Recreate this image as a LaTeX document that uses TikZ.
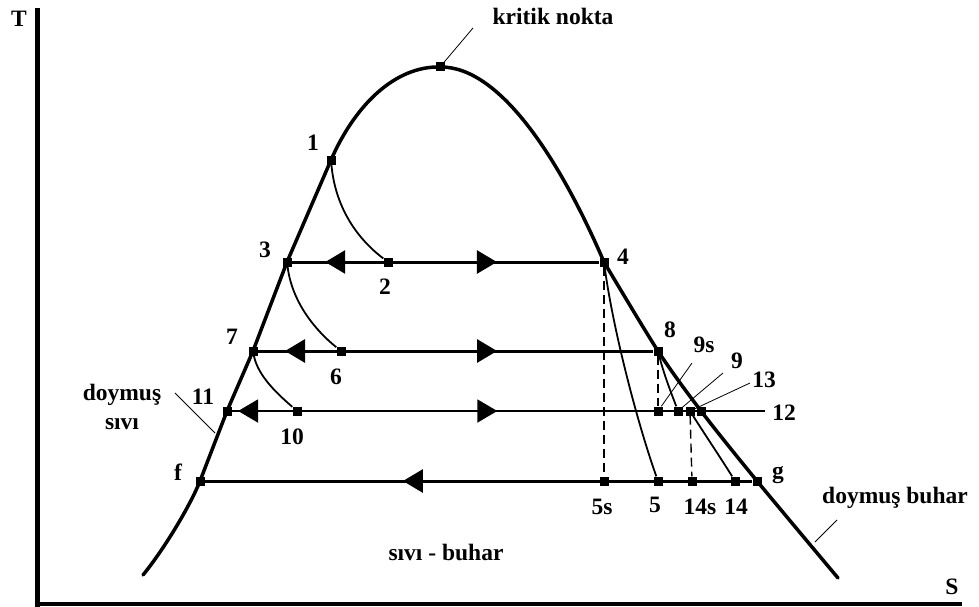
\documentclass[tikz,border=0pt]{standalone}
\usepackage{fontspec}
\setmainfont{Liberation Serif}
\usetikzlibrary{arrows.meta, decorations.markings}

\begin{document}
\begin{tikzpicture}[x=1pt, y=-1pt,
  pt/.style={rectangle, fill=black, minimum size=9pt, inner sep=0pt},
  lbl/.style={font=\fontsize{23.5}{25}\selectfont\bfseries, inner sep=1pt, align=center},
  dome/.style={line width=3.5pt, line join=round, line cap=round},
  isobar/.style={line width=3pt},
  proc/.style={line width=1.8pt},
  isen/.style={line width=1.4pt, dash pattern=on 9pt off 5pt},
  leader/.style={line width=0.8pt},
  tipL/.style={postaction={decorate, decoration={markings,
    mark=at position #1 with {\arrowreversed{Triangle[length=20pt, width=23pt]}}}}},
  tipR/.style={postaction={decorate, decoration={markings,
    mark=at position #1 with {\arrow{Triangle[length=20pt, width=23pt]}}}}},
]
  \useasboundingbox (0,0) rectangle (979,607);

  % axes
  \coordinate (top) at (37,8);
  \coordinate (orig) at (37,604);
  \coordinate (send) at (962,604);
  \draw[line width=5pt] (top) -- (37,607);
  \draw[line width=4pt] (orig) -- (send);
  \node[lbl] (tT) at (19,19) {T};
  \node[lbl] (tS) at (952,587) {S};

  % state points
  \node[pt] (crit) at (440,67) {};
  \node[pt] (p1) at (331,160) {};
  \node[pt] (p2) at (388,262) {};
  \node[pt] (p3) at (287,262) {};
  \node[pt] (p4) at (604,262) {};
  \node[pt] (p6) at (341,351) {};
  \node[pt] (p7) at (253,351) {};
  \node[pt] (p8) at (658,351) {};
  \node[pt] (p10) at (297,411) {};
  \node[pt] (p11) at (227,411) {};
  \node[pt] (p9s) at (658,411) {};
  \node[pt] (p9) at (678,411) {};
  \node[pt] (p13) at (690,411) {};
  \node[pt] (p12) at (701,411) {};
  \coordinate (e12) at (765,411);
  \node[pt] (pf) at (200,481) {};
  \node[pt] (p5s) at (604,481) {};
  \node[pt] (p5) at (658,481) {};
  \node[pt] (p14s) at (692,481) {};
  \node[pt] (p14) at (735,481) {};
  \node[pt] (pg) at (757,481) {};

  % saturation dome
  \coordinate (dl) at (143,575);
  \coordinate (dr) at (838,578);
  \draw[dome] (dl) .. controls (165,548) and (191,504) .. (pf.center)
    -- (p11.center) -- (p7.center) -- (p3.center) -- (p1.center)
    .. controls (355,105) and (395,66) .. (crit.center)
    .. controls (500,66) and (560,160) .. (p4.center);
  \draw[dome] plot[smooth, tension=0.5] coordinates {(p4.center) (p8.center)
    (p12.center) (pg.center) (dr)};

  % pressure lines
  \draw[isobar, tipL=0.109, tipR=0.667] (p3) -- (p4);
  \draw[isobar, tipL=0.069, tipR=0.605] (p7) -- (p8);
  \draw[line width=2pt, tipL=0.012, tipR=0.498] (p11) -- (e12);
  \draw[isobar, tipL=0.362] (pf) -- (pg);

  % expansions
  \draw[proc] (p1) .. controls (335,205) and (355,237) .. (p2);
  \draw[proc] (p3) .. controls (292,302) and (315,330) .. (p6);
  \draw[proc] (p7) .. controls (258,377) and (280,396) .. (p10);
  \draw[proc] (p4) .. controls (613,330) and (638,425) .. (p5);
  \draw[proc] (p8) .. controls (664,375) and (672,395) .. (p9);
  \draw[proc] (p13) .. controls (702,430) and (722,460) .. (p14);
  \draw[isen] (p4) -- (p5s);
  \draw[isen] (p8) -- (p9s);
  \draw[isen] (p13) -- (p14s);

  % point labels
  \node[lbl] (t1) at (313,143) {1};
  \node[lbl] (t2) at (385,287) {2};
  \node[lbl] (t3) at (265,250) {3};
  \node[lbl] (t4) at (623,257) {4};
  \node[lbl] (t5s) at (602,507) {5s};
  \node[lbl] (t5) at (655,505) {5};
  \node[lbl] (t6) at (336,377) {6};
  \node[lbl] (t7) at (232,337) {7};
  \node[lbl] (t8) at (670,330) {8};
  \node[lbl] (t9s) at (704,345) {9s};
  \node[lbl] (t9) at (737,361) {9};
  \node[lbl] (t10) at (292,437) {10};
  \node[lbl] (t11) at (203,397) {11};
  \node[lbl] (t12) at (784,413) {12};
  \node[lbl] (t13) at (764,380) {13};
  \node[lbl] (t14s) at (700,507) {14s};
  \node[lbl] (t14) at (736,507) {14};
  \node[lbl] (tf) at (178,472) {f};
  \node[lbl] (tg) at (778,475) {g};

  % region labels
  \node[lbl] (tcrit) at (553,16) {kritik nokta};
  \node[lbl, font=\fontsize{23.5}{29}\selectfont\bfseries] (tsivi) at (122,407) {doymuş\\sıvı};
  \node[lbl] (tbuhar) at (895,498) {doymuş buhar};
  \node[lbl] (tmix) at (446,552) {sıvı - buhar};

  % leaders
  \coordinate (qcrit) at (473,28);
  \coordinate (qs1) at (175,393);
  \coordinate (qs2) at (215,433);
  \coordinate (qb1) at (837,520);
  \coordinate (qb2) at (815,542);
  \coordinate (q9s) at (692,363);
  \coordinate (q9) at (723,373);
  \coordinate (q13) at (750,383);
  \draw[leader] (crit) -- (qcrit);
  \draw[leader] (qs1) -- (qs2);
  \draw[leader] (qb1) -- (qb2);
  \draw[leader] (q9s) -- (p9s);
  \draw[leader] (q9) -- (p9);
  \draw[leader] (q13) -- (p13);
\end{tikzpicture}
\end{document}
